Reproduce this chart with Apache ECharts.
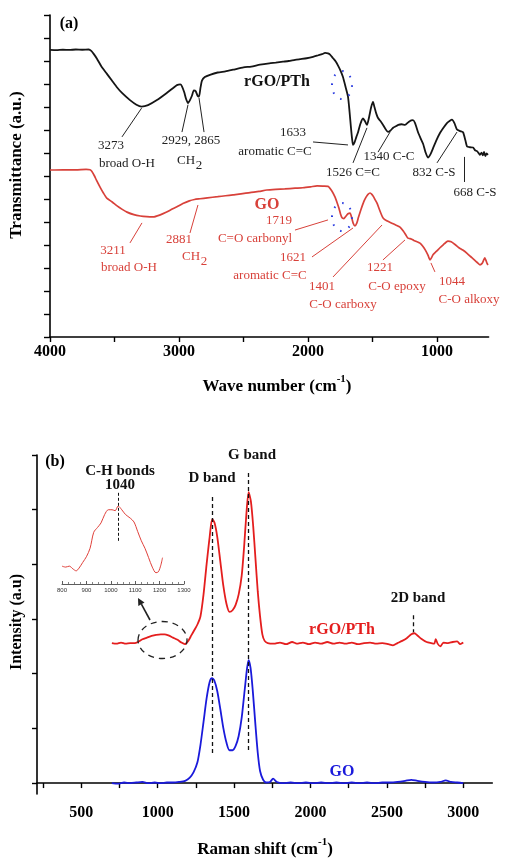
<!DOCTYPE html>
<html><head><meta charset="utf-8">
<script src="https://cdn.jsdelivr.net/npm/echarts@6/dist/echarts.min.js"></script>
<style>html,body{margin:0;padding:0;background:#fff}#c{width:505px;height:858px}</style>
</head><body><div id="c"></div>
<script>
// ---------- DATA ----------
// (a) FTIR, wave number (cm-1) vs transmittance (a.u., offset)
const ftirRgoPth = [[4000,12.48],[3950,12.47],[3900,12.49],[3850,12.48],[3800,12.5],[3750,12.49],[3700,12.5],[3680,12.44],[3660,12.3],[3636,12.1],[3600,11.75],[3560,11.45],[3520,11.15],[3483,10.87],[3440,10.6],[3380,10.3],[3330,10.1],[3290,10.02],[3240,10.08],[3171,10.3],[3093,10.62],[3040,10.85],[3016,10.95],[2990,10.98],[2977,10.9],[2960,10.65],[2945,10.35],[2930,10.17],[2915,10.3],[2899,10.5],[2885,10.72],[2870,10.68],[2855,10.48],[2845,10.45],[2833,10.85],[2822,11.15],[2800,11.3],[2760,11.4],[2700,11.5],[2640,11.55],[2581,11.62],[2500,11.72],[2440,11.76],[2372,11.84],[2300,11.9],[2250,11.93],[2194,11.97],[2150,12.0],[2100,12.05],[2062,12.08],[2010,12.12],[1961,12.18],[1920,12.25],[1890,12.3],[1868,12.35],[1845,12.33],[1829,12.28],[1806,12.12],[1785,11.98],[1767,11.8],[1748,11.58],[1729,11.3],[1710,10.9],[1690,10.45],[1678,9.8],[1667,9.1],[1658,8.6],[1651,8.35],[1640,8.45],[1625,8.7],[1612,8.9],[1595,9.25],[1574,9.5],[1558,9.38],[1543,9.22],[1525,9.6],[1510,10.0],[1496,10.22],[1485,10.0],[1470,9.7],[1457,9.52],[1440,9.4],[1418,9.22],[1400,9.05],[1380,8.92],[1360,8.98],[1340,9.1],[1326,9.14],[1300,9.22],[1275,9.25],[1248,9.22],[1220,9.35],[1200,9.42],[1186,9.43],[1170,9.3],[1147,8.9],[1128,8.65],[1108,8.4],[1090,8.05],[1070,7.8],[1050,7.95],[1031,8.2],[1005,8.55],[977,8.87],[950,9.1],[923,9.3],[900,9.4],[884,9.45],[865,9.3],[845,9.02],[820,8.95],[798,8.9],[780,8.55],[767,8.28],[745,8.25],[721,8.24],[705,8.12],[690,8.08],[675,7.98],[667,7.92],[655,8.02],[645,7.9],[635,8.05],[625,7.86],[615,7.98],[605,7.92]];
const ftirGO = [[4000,7.26],[3900,7.27],[3800,7.27],[3720,7.29],[3690,7.27],[3675,7.2],[3655,7.0],[3640,6.82],[3612,6.52],[3585,6.25],[3560,6.04],[3520,5.88],[3480,5.7],[3440,5.55],[3403,5.43],[3350,5.32],[3300,5.26],[3250,5.23],[3200,5.22],[3150,5.3],[3100,5.42],[3060,5.54],[3016,5.66],[2970,5.8],[2920,5.92],[2880,5.98],[2837,6.01],[2780,6.05],[2700,6.1],[2640,6.14],[2581,6.18],[2520,6.22],[2450,6.28],[2380,6.33],[2320,6.39],[2250,6.42],[2180,6.44],[2100,6.47],[2040,6.49],[1980,6.53],[1930,6.57],[1880,6.56],[1845,6.55],[1815,6.35],[1791,6.09],[1775,5.85],[1760,5.6],[1748,5.35],[1736,5.18],[1722,5.15],[1708,5.24],[1690,5.36],[1674,5.39],[1662,5.2],[1650,4.95],[1636,4.83],[1622,4.95],[1610,5.18],[1595,5.45],[1581,5.68],[1565,5.92],[1550,6.08],[1535,6.2],[1519,6.26],[1505,6.2],[1490,6.08],[1478,5.95],[1465,5.82],[1450,5.6],[1435,5.38],[1418,5.17],[1390,5.05],[1350,4.95],[1320,4.87],[1287,4.78],[1260,4.6],[1240,4.42],[1225,4.3],[1200,4.26],[1180,4.2],[1155,4.14],[1132,4.08],[1110,3.95],[1090,3.78],[1070,3.56],[1054,3.35],[1042,3.45],[1031,3.58],[1005,3.72],[977,3.88],[950,4.02],[930,4.12],[915,4.17],[890,4.14],[860,4.02],[830,3.88],[800,3.78],[767,3.64],[740,3.5],[715,3.38],[690,3.25],[667,3.14],[650,3.2],[640,3.32],[630,3.44],[622,3.35],[612,3.2],[605,3.13]];
// (b) Raman, shift (cm-1) vs intensity (a.u., offset)
const ramanRgoPth = [[700,2.56],[730,2.55],[760,2.57],[790,2.55],[820,2.56],[850,2.56],[870,2.58],[900,2.63],[930,2.66],[960,2.69],[990,2.71],[1020,2.72],[1045,2.72],[1070,2.7],[1100,2.66],[1130,2.62],[1155,2.57],[1178,2.54],[1200,2.6],[1220,2.7],[1240,2.8],[1260,2.9],[1280,3.05],[1300,3.45],[1320,4.0],[1340,4.5],[1357,4.83],[1372,4.76],[1390,4.5],[1410,4.05],[1430,3.6],[1450,3.28],[1470,3.13],[1490,3.16],[1510,3.26],[1530,3.45],[1550,3.8],[1565,4.3],[1580,4.9],[1595,5.32],[1610,5.15],[1625,4.7],[1640,4.1],[1655,3.5],[1670,3.05],[1685,2.72],[1700,2.6],[1720,2.56],[1760,2.55],[1800,2.57],[1840,2.54],[1880,2.58],[1910,2.55],[1950,2.57],[1990,2.54],[2030,2.57],[2070,2.55],[2110,2.58],[2150,2.55],[2190,2.57],[2230,2.55],[2270,2.57],[2310,2.54],[2350,2.56],[2390,2.57],[2430,2.55],[2470,2.56],[2510,2.54],[2540,2.52],[2570,2.56],[2600,2.6],[2630,2.65],[2660,2.72],[2680,2.74],[2700,2.7],[2725,2.64],[2760,2.58],[2790,2.56],[2810,2.55],[2820,2.63],[2832,2.55],[2850,2.5],[2870,2.57],[2900,2.56],[2930,2.58],[2960,2.59],[2980,2.54],[3000,2.57]];
const ramanGO = [[700,0.0],[740,-0.01],[780,0.01],[820,0.0],[860,0.01],[900,0.02],[940,0.0],[980,0.01],[1020,0.0],[1060,0.01],[1100,0.01],[1140,0.02],[1180,0.04],[1210,0.1],[1235,0.2],[1260,0.38],[1280,0.7],[1300,1.12],[1320,1.55],[1340,1.85],[1355,1.92],[1370,1.88],[1390,1.68],[1410,1.35],[1430,1.0],[1450,0.74],[1470,0.6],[1490,0.6],[1510,0.68],[1530,0.86],[1550,1.2],[1570,1.72],[1585,2.1],[1595,2.25],[1608,2.1],[1622,1.7],[1640,1.05],[1655,0.55],[1670,0.22],[1690,0.06],[1710,0.01],[1735,0.02],[1755,0.08],[1780,0.02],[1820,0.0],[1870,0.01],[1920,0.0],[1970,0.01],[2020,0.0],[2070,0.01],[2120,0.0],[2170,0.01],[2220,0.0],[2270,0.01],[2320,0.0],[2370,0.01],[2420,0.0],[2470,0.01],[2520,0.01],[2570,0.02],[2620,0.04],[2660,0.06],[2700,0.04],[2750,0.02],[2800,0.01],[2850,0.02],[2885,0.05],[2920,0.02],[2960,0.01],[3000,0.0]];
// inset: C-H bond region of rGO/PTh
const insetRgoPth = [[800,0.19],[815,0.18],[830,0.19],[845,0.16],[858,0.14],[870,0.17],[885,0.23],[900,0.29],[915,0.38],[930,0.55],[945,0.6],[960,0.65],[975,0.74],[990,0.79],[1005,0.79],[1018,0.78],[1030,0.83],[1045,0.79],[1060,0.74],[1080,0.7],[1095,0.66],[1110,0.56],[1125,0.46],[1140,0.38],[1155,0.28],[1170,0.18],[1185,0.12],[1195,0.13],[1205,0.2],[1212,0.28]];
// tick values
const ftirTicks = [1000,1500,2000,2500,3000,3500,4000];
const ftirLabels = [1000,2000,3000,4000];
const ramanTicks = [250,500,750,1000,1250,1500,1750,2000,2250,2500,2750,3000];
const ramanLabels = [500,1000,1500,2000,2500,3000];
const ramanYTicks = [0,1,2,3,4,5,6];

// ---------- CHART ----------
const serif = "'Liberation Serif','Times New Roman',serif";
const chart = echarts.init(document.getElementById('c'));
const BLK = '#151515', RED_A = '#d8413a', RED_B = '#e41e1e', BLUE = '#1a1adb';
const plain = v => String(v);

function lead(a, b) { return [{coord: a}, {coord: b}]; }
const ml = (color, data, type, width) => ({
  silent: true, symbol: ['none','none'], animation: false,
  label: {show: false}, emphasis: {disabled: true},
  lineStyle: {color: color, width: width || 1, type: type || 'solid'},
  data: data
});

const blackLeaders = [
  lead([3290,9.95],[3442,8.70]), lead([2930,10.1],[2977,8.91]), lead([2845,10.4],[2806,8.91]),
  lead([1961,8.48],[1690,8.35]), lead([1543,9.09],[1651,7.57]), lead([1364,8.91],[1457,8.04]),
  lead([845,8.91],[1000,7.57]), lead([791,7.83],[791,6.74])
];
const redLeaders = [
  lead([3287,4.96],[3380,4.09]), lead([2853,5.74],[2915,4.52]), lead([1845,5.09],[2101,4.65]),
  lead([1651,4.74],[1969,3.48]), lead([1426,4.87],[1806,2.61]), lead([1248,4.22],[1419,3.35]),
  lead([1047,3.22],[1016,2.83])
];
const bandLines = [
  lead([1355,5.23],[1355,0.55]), lead([1595,5.67],[1595,0.55]), lead([2670,3.07],[2670,2.76])
];

function T(x, y, s, size, color, bold, extra) {
  return {
    type: 'text', x: x, y: y, silent: true, z: 100,
    style: Object.assign({text: s, fontFamily: serif, fontSize: size || 13, fill: color || '#222',
      fontWeight: bold ? 'bold' : 'normal', align: 'center', verticalAlign: 'middle'}, extra || {})
  };
}
function CH2(x, y, color) {
  return [T(x - 4, y, 'CH', 13, color), T(x + 9, y + 5, '2', 13, color)];
}
const supRich = {lineHeight:26, rich:{sup:{fontFamily:serif,fontSize:11,fontWeight:'bold',lineHeight:11,verticalAlign:'top',fill:'#000'}}};

const graphics = [
  T(69,24,'(a)',16,'#000',true),
  T(277,82,'rGO/PTh',16,'#111',true),
  T(111,146,'3273'), T(127,164,'broad O-H'),
  T(191,141,'2929, 2865'), ...CH2(190,161,'#222'),
  T(293,133,'1633'), T(275,152,'aromatic C=C'),
  T(353,173,'1526 C=C'), T(389,157,'1340 C-C'),
  T(434,173,'832 C-S'), T(475,193,'668 C-S'),
  T(267,205,'GO',16,RED_A,true),
  T(113,251,'3211',13,RED_A), T(129,268,'broad O-H',13,RED_A),
  T(179,240,'2881',13,RED_A), ...CH2(195,257,RED_A),
  T(279,221,'1719',13,RED_A), T(255,239,'C=O carbonyl',13,RED_A),
  T(293,258,'1621',13,RED_A), T(270,276,'aromatic C=C',13,RED_A),
  T(322,287,'1401',13,RED_A), T(343,305,'C-O carboxy',13,RED_A),
  T(380,268,'1221',13,RED_A), T(397,287,'C-O epoxy',13,RED_A),
  T(452,282,'1044',13,RED_A), T(469,300,'C-O alkoxy',13,RED_A),
  {type:'ellipse', silent:true, z:90, shape:{cx:342,cy:85,rx:10,ry:14}, style:{fill:'none',stroke:'#2a3be0',lineWidth:2,lineDash:[1.5,8]}},
  {type:'ellipse', silent:true, z:90, shape:{cx:342,cy:217,rx:10,ry:14}, style:{fill:'none',stroke:'#2a3be0',lineWidth:2,lineDash:[1.5,8]}},
  Object.assign(T(17,165,'Transmittance (a.u.)',17,'#000',true), {rotation: Math.PI / 2}),
  T(277,387,'Wave number (cm{sup|-1})',17,'#000',true,supRich),
  // (b)
  T(55,462,'(b)',16,'#000',true),
  T(120,471,'C-H bonds',15,'#111',true), T(120,485,'1040',15,'#111',true),
  T(212,478,'D band',15,'#111',true), T(252,455,'G band',15,'#111',true),
  T(418,598,'2D band',15,'#111',true),
  T(342,630,'rGO/PTh',16,RED_B,true), T(342,772,'GO',16,BLUE,true),
  {type:'ellipse', silent:true, z:90, shape:{cx:162.5,cy:640,rx:24.5,ry:18.5}, style:{fill:'none',stroke:'#222',lineWidth:1.3,lineDash:[6,5]}},
  {type:'line', silent:true, z:90, shape:{x1:150,y1:620,x2:141.4,y2:604.2}, style:{stroke:'#222',lineWidth:1.6}},
  {type:'polygon', silent:true, z:90, shape:{points:[[138,598],[144.5,602.5],[138.3,605.9]]}, style:{fill:'#222'}},
  Object.assign(T(17,622,'Intensity (a.u)',16,'#000',true), {rotation: Math.PI / 2}),
  T(265,850,'Raman shift (cm{sup|-1})',17,'#000',true,supRich)
];

const axLine = {show: true, lineStyle: {color: '#000', width: 1.6}};
const tickStyle = {color: '#000', width: 1.4};
const lbl = {fontFamily: serif, fontWeight: 'bold', fontSize: 16, color: '#000', formatter: plain};

chart.setOption({
  animation: false,
  backgroundColor: '#fff',
  grid: [
    {left: 50, top: 15, width: 438.6, height: 322},
    {left: 37, top: 455, width: 455.3, height: 339},
    {left: 62, top: 490, width: 122, height: 94}
  ],
  xAxis: [
    {gridIndex: 0, type: 'value', min: 600, max: 4000, inverse: true, axisLine: axLine,
     axisTick: {show: true, customValues: ftirTicks, length: 5, lineStyle: tickStyle},
     axisLabel: Object.assign({customValues: ftirLabels, margin: 7}, lbl), splitLine: {show: false}},
    {gridIndex: 1, type: 'value', min: 210, max: 3190, axisLine: axLine,
     axisTick: {show: true, customValues: ramanTicks, length: 5, lineStyle: tickStyle},
     axisLabel: Object.assign({customValues: ramanLabels, margin: 11}, lbl), splitLine: {show: false}},
    {gridIndex: 2, type: 'value', min: 800, max: 1300, interval: 100, axisLine: {show: true, lineStyle: {color: '#333', width: 0.8}},
     axisTick: {show: true, inside: true, length: 3, lineStyle: {color: '#333', width: 0.8}},
     minorTick: {show: true, splitNumber: 4, length: 2, lineStyle: {color: '#333', width: 0.6}},
     axisLabel: {fontSize: 6, color: '#333', margin: 3, fontFamily: 'Arial, sans-serif', formatter: plain}, splitLine: {show: false}}
  ],
  yAxis: [
    {gridIndex: 0, type: 'value', min: 0, max: 14, interval: 1, axisLine: axLine,
     axisTick: {show: true, length: 6, lineStyle: tickStyle}, axisLabel: {show: false}, splitLine: {show: false}},
    {gridIndex: 1, type: 'value', min: -0.2, max: 6, axisLine: axLine,
     axisTick: {show: true, customValues: ramanYTicks, length: 5, lineStyle: tickStyle},
     axisLabel: {show: false}, splitLine: {show: false}},
    {gridIndex: 2, type: 'value', min: 0, max: 1, show: false}
  ],
  series: [
    {name: 'rGO/PTh FTIR', type: 'line', xAxisIndex: 0, yAxisIndex: 0, data: ftirRgoPth, showSymbol: false, smooth: 0.2,
     lineStyle: {color: BLK, width: 1.8}, markLine: ml('#222', blackLeaders)},
    {name: 'GO FTIR', type: 'line', xAxisIndex: 0, yAxisIndex: 0, data: ftirGO, showSymbol: false, smooth: 0.2,
     lineStyle: {color: RED_A, width: 1.7}, markLine: ml(RED_A, redLeaders)},
    {name: 'rGO/PTh Raman', type: 'line', xAxisIndex: 1, yAxisIndex: 1, data: ramanRgoPth, showSymbol: false, smooth: 0.25,
     lineStyle: {color: RED_B, width: 1.8}, markLine: ml('#111', bandLines, [4, 3], 1.3)},
    {name: 'GO Raman', type: 'line', xAxisIndex: 1, yAxisIndex: 1, data: ramanGO, showSymbol: false, smooth: 0.25,
     lineStyle: {color: BLUE, width: 1.8}},
    {name: 'inset', type: 'line', xAxisIndex: 2, yAxisIndex: 2, data: insetRgoPth, showSymbol: false, smooth: 0.3,
     lineStyle: {color: '#e0403a', width: 1}, markLine: ml('#111', [lead([1030,0.97],[1030,0.45])], [3, 2], 1)}
  ],
  graphic: graphics
});
</script></body></html>
